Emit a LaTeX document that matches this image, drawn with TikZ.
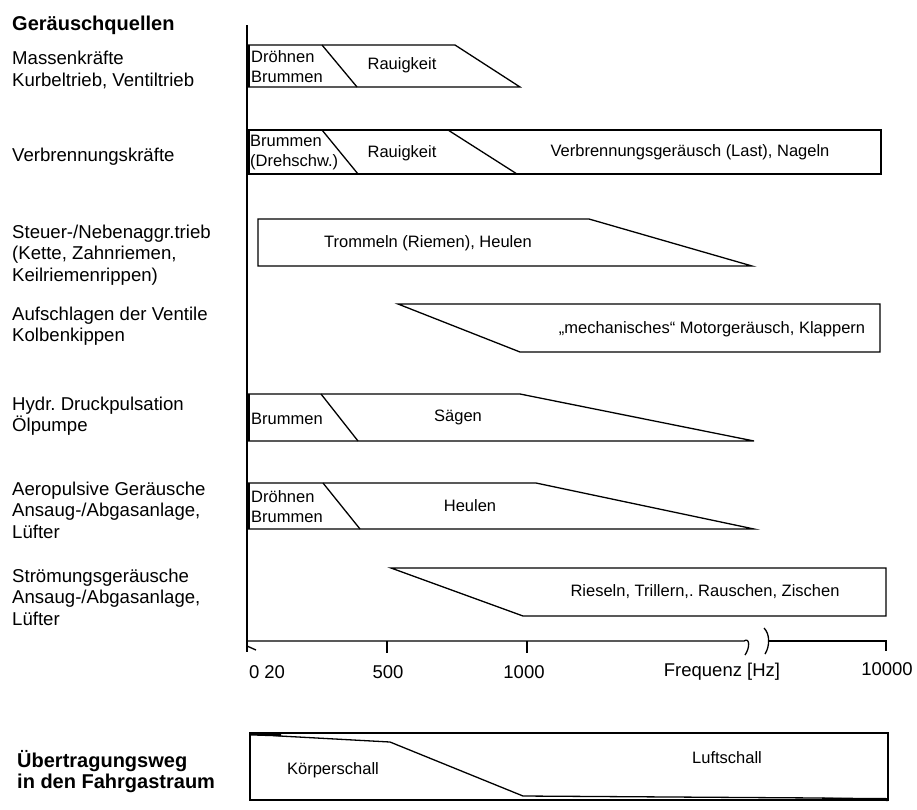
\documentclass[tikz,border=0pt]{standalone}
\usepackage{fontspec}
\setmainfont{Liberation Sans}
\frenchspacing
\tikzset{
  src/.style={anchor=west,align=left,inner sep=0pt,font=\fontsize{18.6}{21.5}\selectfont},
  lbl/.style={inner sep=0pt,align=left,font=\fontsize{16.5}{20}\selectfont},
  axlbl/.style={inner sep=0pt,font=\fontsize{18.5}{21}\selectfont},
  band/.style={line width=1.3pt,line join=miter},
  edge/.style={line width=3pt},
}
\begin{document}
\begin{tikzpicture}[x=1pt,y=-1pt]
\useasboundingbox (0,0) rectangle (917,809);
%sources
\node[src,font=\fontsize{20}{22}\selectfont\bfseries] (hdr) at (12,25) {Geräuschquellen};
\node[src] (massen) at (12,70) {Massenkräfte\\Kurbeltrieb, Ventiltrieb};
\node[src] (verbr) at (12,157) {Verbrennungskräfte};
\node[src] (steuer) at (12,255) {Steuer-/Nebenaggr.trieb\\(Kette, Zahnriemen,\\Keilriemenrippen)};
\node[src] (ventil) at (12,326) {Aufschlagen der Ventile\\Kolbenkippen};
\node[src] (hydr) at (12,416) {Hydr. Druckpulsation\\Ölpumpe};
\node[src] (aero) at (12,510) {Aeropulsive Geräusche\\Ansaug-/Abgasanlage,\\Lüfter};
\node[src] (stroem) at (12,597) {Strömungsgeräusche\\Ansaug-/Abgasanlage,\\Lüfter};
\node[src,font=\fontsize{20}{21}\selectfont\bfseries] (weg) at (17,772) {Übertragungsweg\\in den Fahrgastraum};
%axis
\draw[band] (247,25) -- (247,652);
\draw[band] (247,646) -- (256,650);
\draw[band] (247,641) -- (744,641) .. controls (750,637) and (750,648) .. (745,655);
\draw[band] (764,628) .. controls (770,634) and (770,646) .. (765,654);
\draw[band] (768,641) -- (886,641) -- (886,651);
\draw[band] (387,641) -- (387,653);
\draw[band] (527,641) -- (527,653);
\node[axlbl] (f0) at (267,672) {0 20};
\node[axlbl] (f500) at (388,672) {500};
\node[axlbl] (f1000) at (524,672) {1000};
\node[axlbl] (fq) at (722,672) {Frequenz [Hz]};
\node[axlbl] (f10k) at (887,669) {10000};
%bands
\draw[band] (247,45) -- (455,45) -- (520,87) -- (247,87);
\draw[band] (322,45) -- (357,87);
\draw[edge] (248.5,45) -- (248.5,87);
\node[lbl,anchor=west] (r1a) at (251,67) {Dröhnen\\Brummen};
\node[lbl] (r1b) at (402,65) {Rauigkeit};
%
\draw[band] (247,130) rectangle (881,174);
\draw[band] (322,130) -- (358,174);
\draw[band] (448,130) -- (517,174);
\draw[edge] (248.5,130) -- (248.5,174);
\node[lbl,anchor=west] (r2a) at (250,153) {Brummen\\(Drehschw.)};
\node[lbl] (r2b) at (402,153) {Rauigkeit};
\node[lbl] (r2c) at (690,152) {Verbrennungsgeräusch (Last), Nageln};
%
\draw[band] (258,219) -- (589,219) -- (752,266) -- (258,266) -- cycle;
\node[lbl] (r3) at (428,243) {Trommeln (Riemen), Heulen};
%
\draw[band] (398,304) -- (880,304) -- (880,352) -- (520,352) -- cycle;
\node[lbl] (r4) at (712,329) {„mechanisches“ Motorgeräusch, Klappern};
%
\draw[band] (247,394) -- (520,394) -- (754,441) -- (247,441);
\draw[band] (321,394) -- (358,441);
\draw[edge] (248.5,394) -- (248.5,441);
\node[lbl,anchor=west] (r5a) at (251,419) {Brummen};
\node[lbl] (r5b) at (458,417) {Sägen};
%
\draw[band] (247,483) -- (536,483) -- (754,529) -- (247,529);
\draw[band] (323,483) -- (360,529);
\draw[edge] (248.5,483) -- (248.5,529);
\node[lbl,anchor=west] (r6a) at (251,507) {Dröhnen\\Brummen};
\node[lbl] (r6b) at (470,506) {Heulen};
%
\draw[band] (391,568) -- (886,568) -- (886,616) -- (523,616) -- cycle;
\node[lbl] (r7) at (705,592) {Rieseln, Trillern,. Rauschen, Zischen};
%path
\draw[band] (250,733) rectangle (888,800);
\draw[band] (250,733) -- (280,736) -- (390,742) -- (523,796) -- (820,798) -- (888,800);
\draw[edge] (250,734) -- (281,735);
\draw[edge] (822,799) -- (888,799.5);
\node[lbl] (koerper) at (333,770) {Körperschall};
\node[lbl] (luft) at (727,758) {Luftschall};
\end{tikzpicture}
\end{document}
